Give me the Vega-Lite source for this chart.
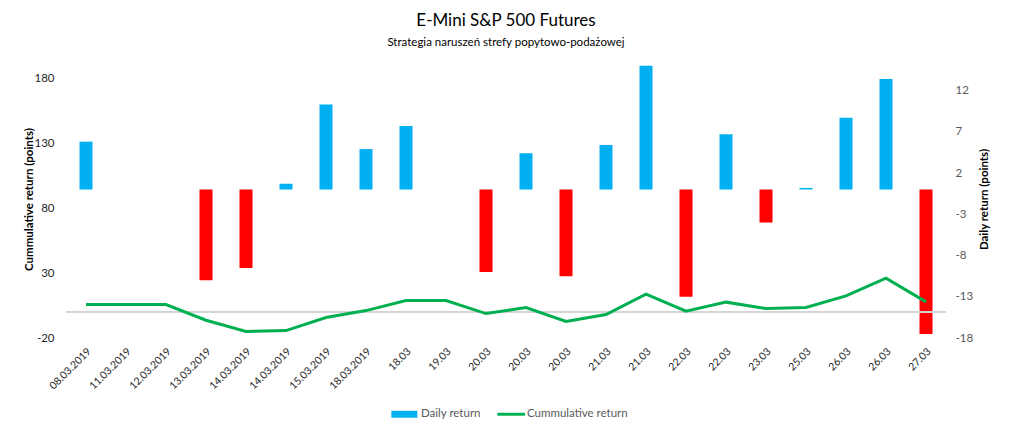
{
  "$schema": "https://vega.github.io/schema/vega-lite/v6.json",
  "width": 880,
  "height": 278,
  "autosize": {"type": "none"},
  "padding": {"left": 66, "top": 60, "right": 63, "bottom": 96},
  "title": {
    "text": "E-Mini S&P 500 Futures",
    "subtitle": "Strategia naruszeń strefy popytowo-podażowej",
    "anchor": "middle",
    "fontSize": 17,
    "fontWeight": "normal",
    "color": "#000000",
    "subtitleFontSize": 11.5,
    "subtitleColor": "#000000",
    "subtitlePadding": 7,
    "offset": 11
  },
  "data": {
    "values": [
      {"date": "08.03.2019", "daily": 5.8, "cum": 5.8},
      {"date": "11.03.2019", "daily": 0, "cum": 5.8},
      {"date": "12.03.2019", "daily": 0, "cum": 5.8},
      {"date": "13.03.2019", "daily": -11.0, "cum": -6.3},
      {"date": "14.03.2019", "daily": -9.5, "cum": -15.0},
      {"date": "14.03.2019\u200b", "daily": 0.7, "cum": -14.3},
      {"date": "15.03.2019", "daily": 10.3, "cum": -4.2},
      {"date": "18.03.2019", "daily": 4.9, "cum": 1.1},
      {"date": "18.03", "daily": 7.7, "cum": 8.9},
      {"date": "19.03", "daily": 0, "cum": 8.9},
      {"date": "20.03", "daily": -10.0, "cum": -1.2},
      {"date": "20.03\u200b", "daily": 4.4, "cum": 3.5},
      {"date": "20.03\u200b\u200b", "daily": -10.5, "cum": -7.3},
      {"date": "21.03", "daily": 5.4, "cum": -1.9},
      {"date": "21.03\u200b", "daily": 15.0, "cum": 13.7},
      {"date": "22.03", "daily": -13.0, "cum": 0.6},
      {"date": "22.03\u200b", "daily": 6.7, "cum": 7.6},
      {"date": "23.03", "daily": -4.0, "cum": 2.7},
      {"date": "25.03", "daily": 0.2, "cum": 3.5},
      {"date": "26.03", "daily": 8.7, "cum": 12.4},
      {"date": "26.03\u200b", "daily": 13.4, "cum": 26.1},
      {"date": "27.03", "daily": -17.5, "cum": 7.8}
    ]
  },
  "layer": [
    {
      "mark": {"type": "bar"},
      "encoding": {
        "x": {
          "field": "date",
          "type": "nominal",
          "sort": null,
          "scale": {"paddingInner": 0.675, "paddingOuter": 0.3375},
          "axis": {
            "title": null,
            "domain": false,
            "ticks": false,
            "labelAngle": -45,
            "labelPadding": 8,
            "labelFontSize": 10.5,
            "labelColor": "#262626"
          }
        },
        "y": {
          "field": "daily",
          "type": "quantitative",
          "scale": {"domain": [-18, 15.7], "nice": false},
          "axis": {
            "orient": "right",
            "values": [-18, -13, -8, -3, 2, 7, 12],
            "labelExpr": "datum.value < 0 ? '-' + abs(datum.value) : datum.label",
            "title": "Daily return (points)",
            "titleAngle": 270,
            "titleFontWeight": "bold",
            "titleFontSize": 11.5,
            "titleColor": "#000000",
            "titlePadding": 17,
            "labelPadding": 9,
            "labelFontSize": 11.5,
            "labelColor": "#595959",
            "domain": false,
            "ticks": false,
            "grid": false
          }
        },
        "y2": {"datum": 0},
        "color": {
          "datum": "Daily return",
          "condition": {"test": "datum.daily < 0", "value": "#FF0000"},
          "legend": {
            "orient": "none",
            "legendX": 325,
            "legendY": 345,
            "direction": "horizontal",
            "title": null,
            "labelFontSize": 11.5,
            "labelColor": "#595959",
            "symbolSize": 300,
            "labelOffset": 12,
            "columnPadding": 16,
            "encode": {
              "symbols": {
                "update": {
                  "shape": {"signal": "datum.label == 'Daily return' ? 'M-1,-0.4H2V0.4H-1Z' : 'M-1,-0.17H2.2V0.17H-1Z'"},
                  "fill": {"signal": "datum.label == 'Daily return' ? '#00B0F0' : '#00B050'"},
                  "stroke": {"value": "transparent"},
                  "strokeWidth": {"value": 0},
                  "opacity": {"value": 1}
                }
              }
            }
          }
        }
      }
    },
    {
      "mark": {"type": "rule", "color": "#d4d4d4", "strokeWidth": 1},
      "encoding": {
        "y": {
          "datum": 0,
          "type": "quantitative",
          "scale": {"domain": [-20, 194], "nice": false},
          "axis": null
        }
      }
    },
    {
      "mark": {"type": "line", "strokeWidth": 3},
      "encoding": {
        "x": {"field": "date", "type": "nominal", "sort": null},
        "y": {
          "field": "cum",
          "type": "quantitative",
          "scale": {"domain": [-20, 194], "nice": false},
          "axis": {
            "orient": "left",
            "values": [-20, 30, 80, 130, 180],
            "labelExpr": "datum.value < 0 ? '-' + abs(datum.value) : datum.label",
            "title": "Cummulative return (points)",
            "titleFontWeight": "bold",
            "titleFontSize": 11.5,
            "titleColor": "#000000",
            "titlePadding": -1,
            "labelPadding": 12,
            "labelFontSize": 11.5,
            "labelColor": "#262626",
            "domain": false,
            "ticks": false,
            "grid": false
          }
        },
        "color": {"datum": "Cummulative return"}
      }
    }
  ],
  "resolve": {"scale": {"y": "independent"}},
  "config": {
    "font": "Lato",
    "view": {"stroke": null},
    "range": {"category": ["#00B0F0", "#00B050"]}
  }
}
